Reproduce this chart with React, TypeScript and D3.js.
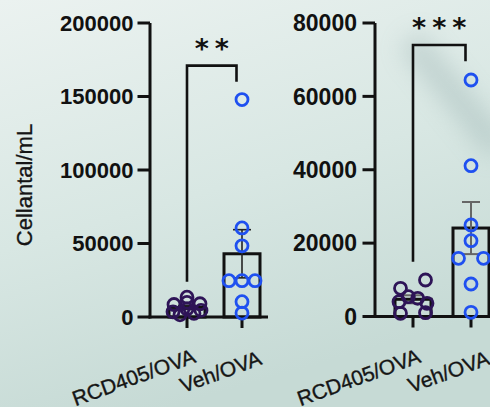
import React from "react";
import * as d3 from "d3";

const categories = ["RCD405/OVA", "Veh/OVA"];

// Left panel (Cellantal/mL)
const leftRCD = [13500, 8500, 10000, 9000, 3500, 1500, 5500, 2500, 4500];
const leftVeh = [147900, 60600, 48400, 24700, 24700, 24700, 10400, 2700];
const leftTicks = [0, 50000, 100000, 150000, 200000];
const leftTickLabels = ["0", "50000", "100000", "150000", "200000"];
const leftBracket = [24000, 171000, 160000]; // left leg bottom, top, right leg bottom
const leftSig = "**";

// Right panel
const rightRCD = [870, 1040, 4030, 5400, 4960, 3600, 7680, 9950];
const rightVeh = [64460, 41100, 24940, 20670, 15860, 15860, 8860, 1140];
const rightTicks = [0, 20000, 40000, 60000, 80000];
const rightTickLabels = ["0", "20000", "40000", "60000", "80000"];
const rightBracket = [14900, 74000, 69600];
const rightSig = "***";

const yTitle = "Cellantal/mL";

const COLORS = ["#2e1457", "#1f50f0"];

type Panel = {
  axisX: number;
  cat0: number;
  catStep: number;
  yBottom: number;
  yTop: number;
  max: number;
  xEnd: number;
  ticks: number[];
  tickLabels: string[];
  groups: number[][];
  bracket: number[];
  sig: string;
  fontSize: number;
  labelGap: number;
  rowTol: number;
  errColor: string;
  errWidth: number;
  labelDx: number[];
};

const panels: Panel[] = [
  {
    axisX: 150, cat0: 187, catStep: 55, yBottom: 317, yTop: 23, max: 200000, xEnd: 268,
    ticks: leftTicks, tickLabels: leftTickLabels, groups: [leftRCD, leftVeh], bracket: leftBracket,
    sig: leftSig, fontSize: 22, labelGap: 16.5, rowTol: 7, errColor: "#222", errWidth: 1.6, labelDx: [10, 21],
  },
  {
    axisX: 375, cat0: 413, catStep: 58, yBottom: 316.5, yTop: 23, max: 80000, xEnd: 495,
    ticks: rightTicks, tickLabels: rightTickLabels, groups: [rightRCD, rightVeh], bracket: rightBracket,
    sig: rightSig, fontSize: 23, labelGap: 18, rowTol: 9, errColor: "#666", errWidth: 2, labelDx: [9, 20],
  },
];

function swarm(values: number[], y: (v: number) => number, cx: number, rowTol: number) {
  const step = 12.5;
  const maxHalf = 14;
  const idx = values.map((_, i) => i).sort((a, b) => values[a] - values[b] || a - b);
  const rows: number[][] = [];
  let cur: number[] | null = null;
  for (const i of idx) {
    if (cur && Math.abs(y(values[cur[0]]) - y(values[i])) < rowTol) cur.push(i);
    else {
      cur = [i];
      rows.push(cur);
    }
  }
  const xs = new Array(values.length).fill(cx);
  for (const row of rows) {
    const r = [...row].sort((a, b) => a - b);
    const n = r.length;
    if (n === 1) xs[r[0]] = cx;
    else if (n === 2) {
      xs[r[0]] = cx - step;
      xs[r[1]] = cx + step;
    } else {
      const sp = Math.min(step + 0.5, (2 * maxHalf) / (n - 1));
      r.forEach((k, j) => (xs[k] = cx + (j - (n - 1) / 2) * sp));
    }
  }
  return xs;
}

function PanelView({ p }: { p: Panel }) {
  const y = d3.scaleLinear().domain([0, p.max]).range([p.yBottom, p.yTop]);
  const x = d3
    .scalePoint<string>()
    .domain(categories)
    .range([p.cat0, p.cat0 + p.catStep]);
  const barW = 36;
  const [bl, bt, br] = p.bracket;
  const xl = x(categories[0])!;
  const xr = x(categories[1])! - 5.5;
  return (
    <g>
      {p.groups.map((vals, gi) => {
        const cx = x(categories[gi])!;
        const mean = d3.mean(vals)!;
        const sem = d3.deviation(vals)! / Math.sqrt(vals.length);
        return (
          <g key={"b" + gi}>
            <rect
              x={cx - barW / 2}
              y={y(mean)}
              width={barW}
              height={y(0) - y(mean)}
              fill="none"
              stroke="#111"
              strokeWidth={3}
            />
            <g stroke={p.errColor} strokeWidth={p.errWidth}>
              <line x1={cx} x2={cx} y1={y(mean - sem)} y2={y(mean + sem)} />
              <line x1={cx - 9} x2={cx + 9} y1={y(mean + sem)} y2={y(mean + sem)} />
              <line x1={cx - 9} x2={cx + 9} y1={y(mean - sem)} y2={y(mean - sem)} />
            </g>
          </g>
        );
      })}
      <line x1={p.axisX} x2={p.axisX} y1={p.yTop} y2={p.yBottom + 1.5} stroke="#111" strokeWidth={3} />
      <line x1={p.axisX - 1.5} x2={p.xEnd} y1={p.yBottom} y2={p.yBottom} stroke="#111" strokeWidth={3} />
      {p.ticks.map((t, i) => (
        <g key={"t" + i}>
          <line x1={p.axisX - 12.5} x2={p.axisX} y1={y(t)} y2={y(t)} stroke="#111" strokeWidth={3} />
          <text
            x={p.axisX - p.labelGap}
            y={y(t)}
            dy="0.36em"
            textAnchor="end"
            fontFamily="'Liberation Sans', Arial, sans-serif"
            fontWeight="bold"
            fontSize={p.fontSize}
            fill="#111"
          >
            {p.tickLabels[i]}
          </text>
        </g>
      ))}
      {categories.map((c, i) => (
        <g key={"c" + i}>
          <line x1={x(c)!} x2={x(c)!} y1={p.yBottom} y2={p.yBottom + 11} stroke="#111" strokeWidth={3} />
          <text
            transform={`translate(${x(c)! + p.labelDx[i]},${362 + i * 2}) rotate(-20)`}
            textAnchor="end"
            fontFamily="'Liberation Sans', Arial, sans-serif"
            fontSize={21}
            fill="#151515"
            stroke="#151515"
            strokeWidth={0.35}
          >
            {c}
          </text>
        </g>
      ))}
      {p.groups.map((vals, gi) => {
        const cx = x(categories[gi])!;
        const xs = swarm(vals, (v) => y(v), cx, p.rowTol);
        return (
          <g key={"p" + gi}>
            {vals.map((v, k) => (
              <circle key={k} cx={xs[k]} cy={y(v)} r={6} fill="none" stroke={COLORS[gi]} strokeWidth={2.8} />
            ))}
          </g>
        );
      })}
      <path
        d={`M${xl},${y(bl)}V${y(bt)}H${xr}V${y(br)}`}
        fill="none"
        stroke="#111"
        strokeWidth={2.6}
      />
      <text
        x={(xl + xr) / 2 + 3}
        y={y(bt) - 8}
        textAnchor="middle"
        fontFamily="'DejaVu Sans', sans-serif"
        fontWeight="bold"
        fontSize={27}
        letterSpacing={6}
        fill="#111"
      >
        {p.sig}
      </text>
    </g>
  );
}

export default function App() {
  return (
    <svg
      width={490}
      height={407}
      style={{ position: "absolute", left: 0, top: 0 }}
      xmlns="http://www.w3.org/2000/svg"
    >
      <defs>
        <linearGradient id="bg" x1="0" y1="0" x2="0.35" y2="1">
          <stop offset="0" stopColor="#ebf2f0" />
          <stop offset="0.55" stopColor="#d8e7e3" />
          <stop offset="1" stopColor="#c6dad5" />
        </linearGradient>
        <filter id="blur" x="-50%" y="-50%" width="200%" height="200%">
          <feGaussianBlur stdDeviation="12" />
        </filter>
      </defs>
      <rect width={490} height={407} fill="url(#bg)" />
      <line x1={410} y1={40} x2={500} y2={150} stroke="#8aa4a4" strokeWidth={26} opacity={0.35} filter="url(#blur)" />
      <text
        transform="translate(32,185) rotate(-90)"
        textAnchor="middle"
        fontFamily="'Liberation Sans', Arial, sans-serif"
        fontSize={22}
        fill="#151515"
        stroke="#151515"
        strokeWidth={0.3}
      >
        {yTitle}
      </text>
      {panels.map((p, i) => (
        <PanelView key={i} p={p} />
      ))}
    </svg>
  );
}
